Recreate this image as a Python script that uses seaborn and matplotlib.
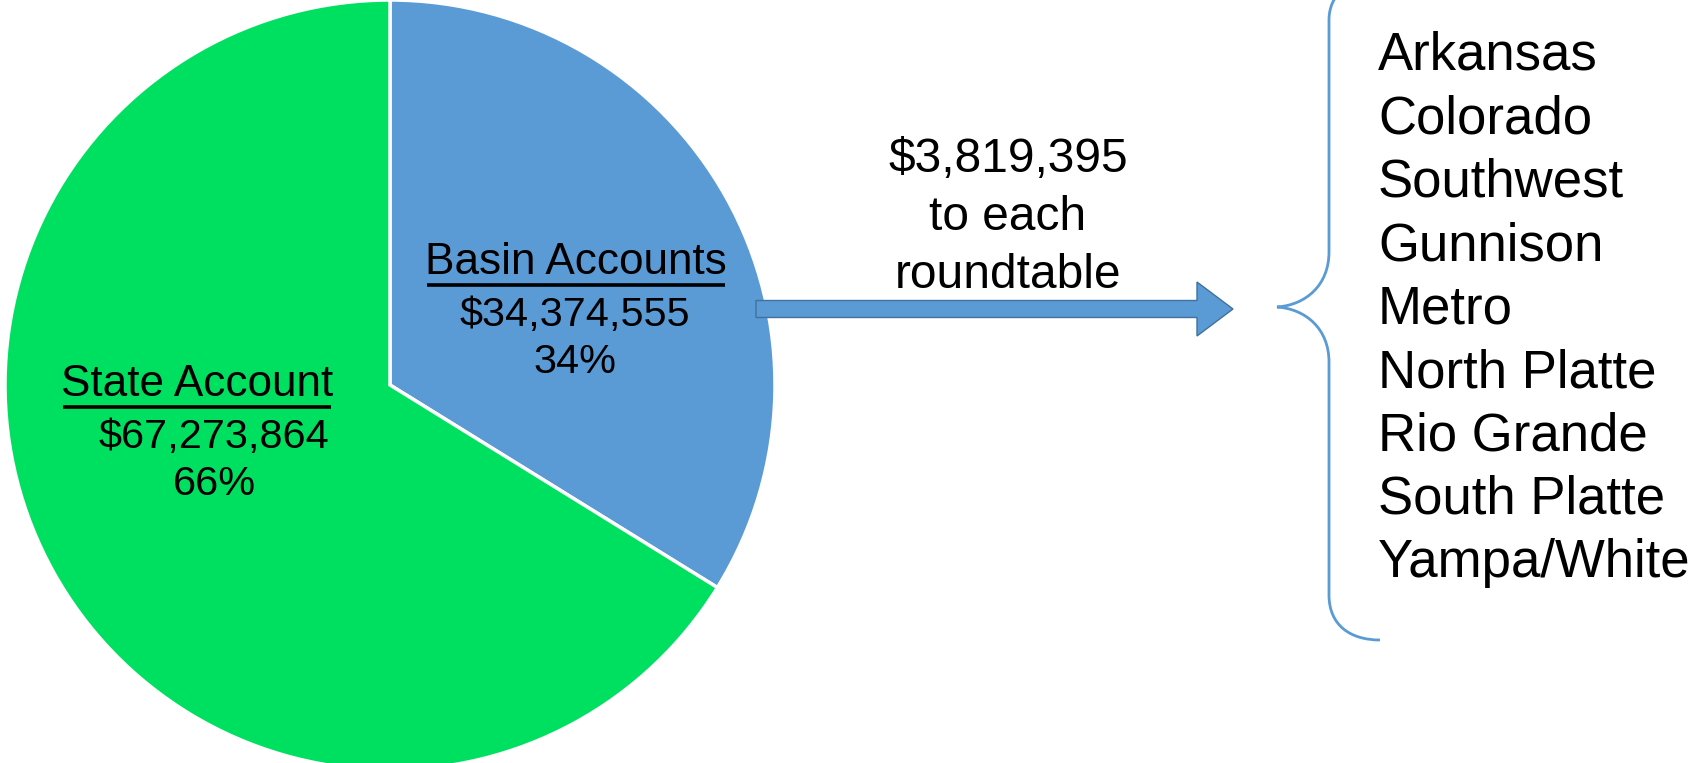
import matplotlib.pyplot as plt
import seaborn as sns
from matplotlib.patches import FancyArrow, PathPatch
from matplotlib.path import Path

sns.set_theme(style='white')
plt.rcParams['font.family'] = ['Liberation Sans', 'DejaVu Sans']
plt.rcParams['text.color'] = 'black'

## data
accounts = ['Basin Accounts', 'State Account']
amounts = [34374555, 67273864]
colors = ['#5B9BD5', '#00E060']
per_roundtable = 3819395
roundtables = ['Arkansas', 'Colorado', 'Southwest', 'Gunnison', 'Metro',
               'North Platte', 'Rio Grande', 'South Platte', 'Yampa/White']

W, H = 1701, 763
fig = plt.figure(figsize=(W / 100, H / 100), dpi=100)
ax = fig.add_axes([0, 0, 1, 1])

## pie (basin first, clockwise from top)
ax.pie(amounts, colors=colors, startangle=90, counterclock=False,
       center=(390, H - 385), radius=385,
       wedgeprops=dict(edgecolor='white', linewidth=2.5))
ax.set_xlim(0, W)
ax.set_ylim(0, H)
ax.set_aspect('auto')
ax.axis('off')

## labels inside the slices
total = sum(amounts)
label_pos = [(576, 263, 575), (197, 385, 214)]  # title x, title y, value x
titles = []
for name, amt, (tx, ty, vx) in zip(accounts, amounts, label_pos):
    t = ax.text(tx, H - ty, name, fontsize=31.8, ha='center', va='center')
    titles.append(t)
    ax.text(vx, H - ty - 52, f'${amt:,}', fontsize=29.8, ha='center', va='center')
    ax.text(vx, H - ty - 99, f'{amt / total * 100:.0f}%', fontsize=29.8,
            ha='center', va='center')

## underline the slice titles
fig.canvas.draw()
inv = ax.transData.inverted()
for t in titles:
    bb = t.get_window_extent().transformed(inv)
    ax.plot([bb.x0 + 2, bb.x1 - 2], [bb.y0 - 1, bb.y0 - 1], color='black', lw=2.6,
            solid_capstyle='butt')

## arrow to the roundtables
ax.add_patch(FancyArrow(756, H - 309, 1233 - 756, 0, width=17, head_width=54,
                        head_length=36, length_includes_head=True,
                        facecolor='#5B9BD5', edgecolor='#41719C', lw=1))
arrow_lines = [f'${per_roundtable:,}', 'to each', 'roundtable']
for i, line in enumerate(arrow_lines):
    ax.text(1008, H - (172 + 58 * i), line, fontsize=34.5, ha='center',
            va='baseline')

## brace
bx, cx, cy = 1329, 1277, H - 307
verts = [(1380, H + 22), (1348, H + 22), (bx, H + 5), (bx, H - 20),
         (bx, cy + 55),
         (bx, cy + 22), (1306, cy + 2), (cx, cy),
         (1306, cy - 2), (bx, cy - 22), (bx, cy - 55),
         (bx, H - 595),
         (bx, H - 625), (1350, H - 640), (1380, H - 640)]
codes = [Path.MOVETO, Path.CURVE4, Path.CURVE4, Path.CURVE4,
         Path.LINETO,
         Path.CURVE4, Path.CURVE4, Path.CURVE4,
         Path.CURVE4, Path.CURVE4, Path.CURVE4,
         Path.LINETO,
         Path.CURVE4, Path.CURVE4, Path.CURVE4]
ax.add_patch(PathPatch(Path(verts, codes), facecolor='none',
                       edgecolor='#5B9BD5', lw=2))

## roundtable list
for i, name in enumerate(roundtables):
    ax.text(1378, H - (70 + 63.4 * i), name, fontsize=38, ha='left',
            va='baseline')

fig.savefig('out.png', dpi=100)
